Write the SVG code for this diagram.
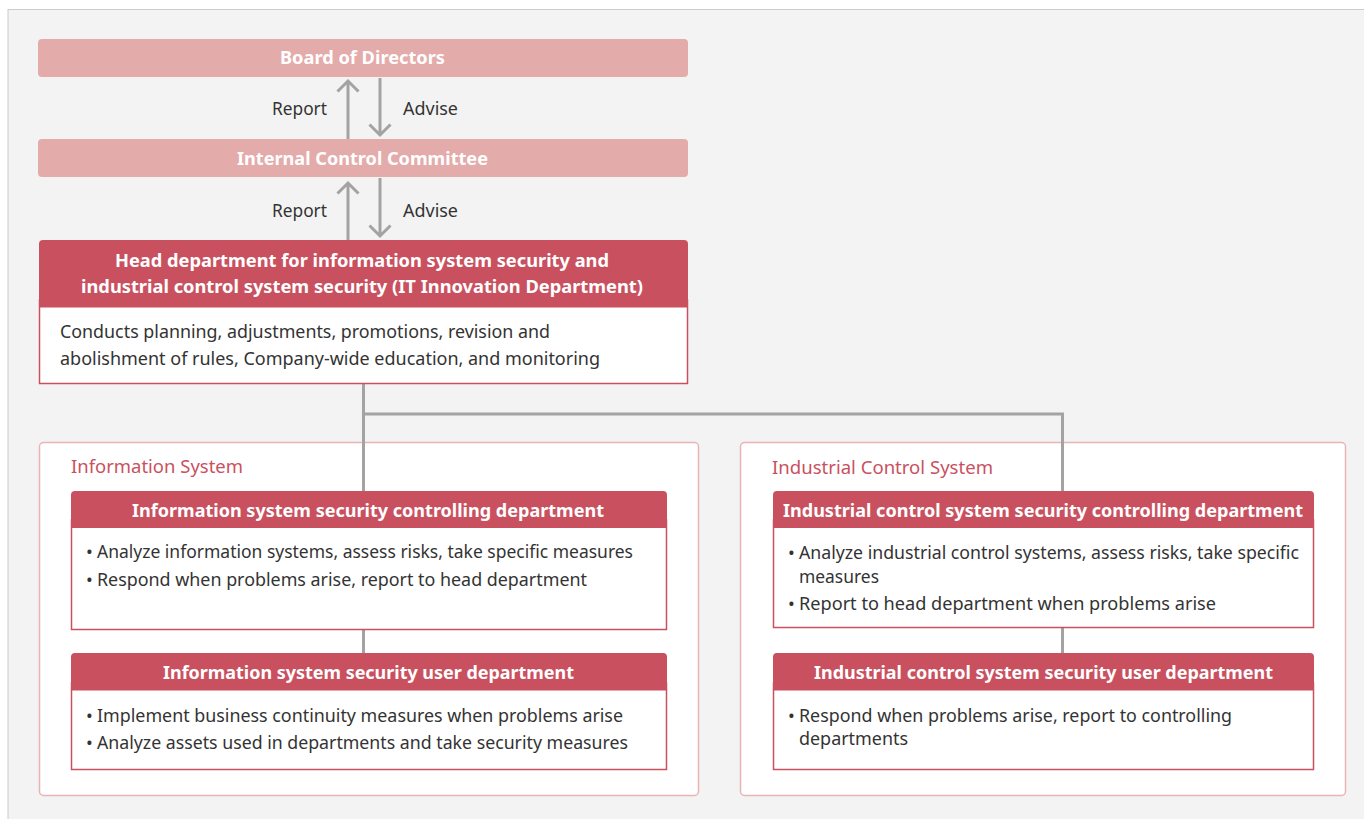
<svg xmlns="http://www.w3.org/2000/svg" width="1364" height="819" viewBox="0 0 1364 819">
<defs>
<style>
.t{font-family:"Noto Sans","Open Sans",sans-serif;font-size:18px;fill:#333}
.h{font-family:"Noto Sans","Open Sans",sans-serif;font-size:18px;font-weight:bold;fill:#fff}
.lab{font-family:"Noto Sans","Open Sans",sans-serif;font-size:18px;fill:#c9515f}
.hdr{fill:#c9515f}
.body{fill:#fff;stroke:#c9515f;stroke-width:1.5}
.grp{fill:#fff;stroke:#e8b4b4;stroke-width:1.5}
.pink{fill:#e4abab}
.con{fill:none;stroke:#a3a3a3;stroke-width:3}
.arr{fill:none;stroke:#a3a3a3;stroke-width:3;stroke-linejoin:miter}
</style>
</defs>
<rect x="0" y="0" width="1364" height="819" fill="#fff"/>
<rect x="8" y="9.5" width="1360" height="815" fill="#f3f3f3" stroke="#cccccc" stroke-width="1"/>

<g id="group-info-system">
<rect class="grp" x="39.5" y="442.5" width="659" height="353" rx="4"/>
<text class="lab" x="71" y="473" textLength="172" lengthAdjust="spacingAndGlyphs">Information System</text>
</g>
<g id="group-industrial-control-system">
<rect class="grp" x="740.5" y="442.5" width="605" height="353" rx="4"/>
<text class="lab" x="772" y="474" textLength="221" lengthAdjust="spacingAndGlyphs">Industrial Control System</text>
</g>

<g id="connectors">
<path class="arr" d="M348 139 V81 M337.5 91.5 L348 81 L358.5 91.5"/>
<path class="arr" d="M380 78 V135 M369.5 124.5 L380 135 L390.5 124.5"/>
<path class="arr" d="M348 240 V183 M337.5 193.5 L348 183 L358.5 193.5"/>
<path class="arr" d="M380 178 V236 M369.5 225.5 L380 236 L390.5 225.5"/>
<text class="t" x="272" y="115" textLength="55" lengthAdjust="spacingAndGlyphs">Report</text>
<text class="t" x="403" y="115" textLength="55" lengthAdjust="spacingAndGlyphs">Advise</text>
<text class="t" x="272" y="217" textLength="55" lengthAdjust="spacingAndGlyphs">Report</text>
<text class="t" x="403" y="217" textLength="55" lengthAdjust="spacingAndGlyphs">Advise</text>
<path class="con" d="M363.5 384 V491 M363.5 414 H1062.5 V491 M363.5 629 V653 M1062.5 627 V653"/>
</g>

<g id="board">
<rect class="pink" x="38" y="39" width="650" height="38" rx="4"/>
<text class="h" x="280" y="64" textLength="165" lengthAdjust="spacingAndGlyphs">Board of Directors</text>
</g>

<g id="internal-control-committee">
<rect class="pink" x="38" y="139" width="650" height="38" rx="4"/>
<text class="h" x="237" y="165" textLength="251" lengthAdjust="spacingAndGlyphs">Internal Control Committee</text>
</g>

<g id="head-department">
<rect class="body" x="39.5" y="300" width="648" height="83.5"/>
<path class="hdr" d="M39 307.5 V244 a4 4 0 0 1 4 -4 H684 a4 4 0 0 1 4 4 V307.5 Z"/>
<text class="h" x="115" y="267" textLength="494" lengthAdjust="spacingAndGlyphs">Head department for information system security and</text>
<text class="h" x="81" y="293" textLength="562" lengthAdjust="spacingAndGlyphs">industrial control system security (IT Innovation Department)</text>
<text class="t" x="60" y="338" textLength="490" lengthAdjust="spacingAndGlyphs">Conducts planning, adjustments, promotions, revision and</text>
<text class="t" x="60" y="365" textLength="540" lengthAdjust="spacingAndGlyphs">abolishment of rules, Company-wide education, and monitoring</text>
</g>

<g id="info-controlling">
<rect class="body" x="71.5" y="520" width="595" height="109.5"/>
<path class="hdr" d="M71 528 V495 a4 4 0 0 1 4 -4 H663 a4 4 0 0 1 4 4 V528 Z"/>
<text class="h" x="132" y="517" textLength="472" lengthAdjust="spacingAndGlyphs">Information system security controlling department</text>
<text class="t" x="86" y="558">•</text>
<text class="t" x="97" y="558" textLength="536" lengthAdjust="spacingAndGlyphs">Analyze information systems, assess risks, take specific measures</text>
<text class="t" x="86" y="586">•</text>
<text class="t" x="97" y="586" textLength="490" lengthAdjust="spacingAndGlyphs">Respond when problems arise, report to head department</text>
</g>

<g id="info-user">
<rect class="body" x="71.5" y="683" width="595" height="86.5"/>
<path class="hdr" d="M71 690.5 V657 a4 4 0 0 1 4 -4 H663 a4 4 0 0 1 4 4 V690.5 Z"/>
<text class="h" x="163" y="679" textLength="411" lengthAdjust="spacingAndGlyphs">Information system security user department</text>
<text class="t" x="86" y="722">•</text>
<text class="t" x="97" y="722" textLength="526" lengthAdjust="spacingAndGlyphs">Implement business continuity measures when problems arise</text>
<text class="t" x="86" y="749">•</text>
<text class="t" x="97" y="749" textLength="531" lengthAdjust="spacingAndGlyphs">Analyze assets used in departments and take security measures</text>
</g>

<g id="ics-controlling">
<rect class="body" x="773.5" y="520" width="540" height="107.5"/>
<path class="hdr" d="M773 528 V495 a4 4 0 0 1 4 -4 H1310 a4 4 0 0 1 4 4 V528 Z"/>
<text class="h" x="783" y="517" textLength="520" lengthAdjust="spacingAndGlyphs">Industrial control system security controlling department</text>
<text class="t" x="788" y="559">•</text>
<text class="t" x="799" y="559" textLength="500" lengthAdjust="spacingAndGlyphs">Analyze industrial control systems, assess risks, take specific</text>
<text class="t" x="799" y="583" textLength="80" lengthAdjust="spacingAndGlyphs">measures</text>
<text class="t" x="788" y="610">•</text>
<text class="t" x="799" y="610" textLength="417" lengthAdjust="spacingAndGlyphs">Report to head department when problems arise</text>
</g>

<g id="ics-user">
<rect class="body" x="773.5" y="683" width="540" height="86.5"/>
<path class="hdr" d="M773 690.5 V657 a4 4 0 0 1 4 -4 H1310 a4 4 0 0 1 4 4 V690.5 Z"/>
<text class="h" x="814" y="679" textLength="459" lengthAdjust="spacingAndGlyphs">Industrial control system security user department</text>
<text class="t" x="788" y="722">•</text>
<text class="t" x="799" y="722" textLength="433" lengthAdjust="spacingAndGlyphs">Respond when problems arise, report to controlling</text>
<text class="t" x="799" y="745" textLength="109" lengthAdjust="spacingAndGlyphs">departments</text>
</g>
</svg>
